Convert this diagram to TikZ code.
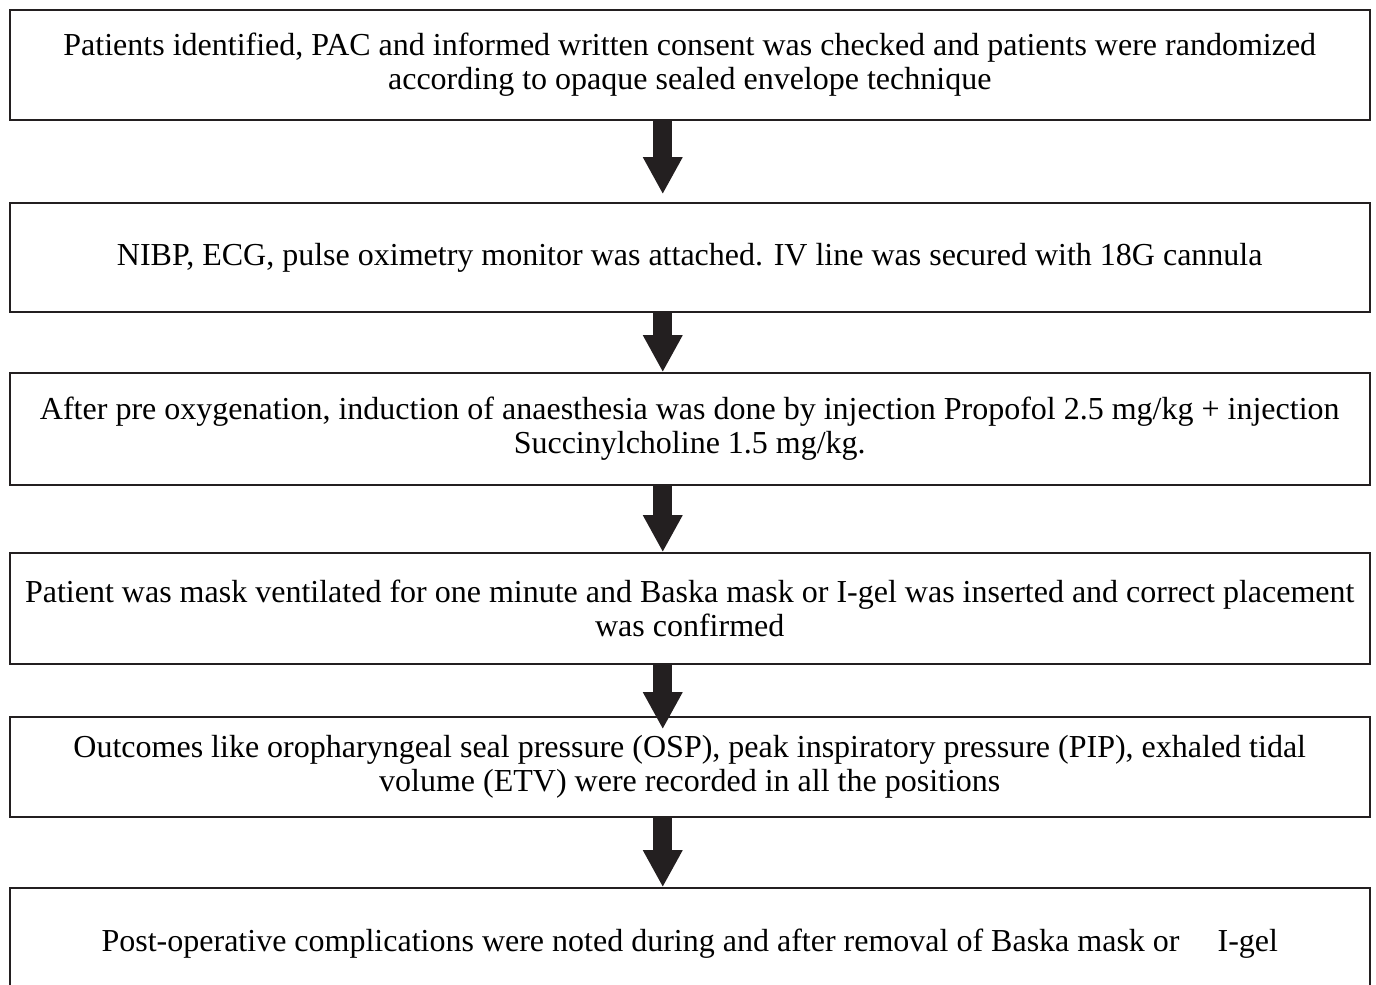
\documentclass[tikz,border=0pt]{standalone}
\usepackage{fontspec}
\setmainfont{Liberation Serif}
\usetikzlibrary{arrows.meta,positioning}
\definecolor{colorink}{HTML}{231F20}
\tikzset{
  stepbox/.style={draw=colorink, line width=1.6pt, minimum width=1360pt,
    align=center, inner sep=0pt, font=\fontsize{32}{34}\selectfont},
  flowarrow/.style={colorink, line width=19pt,
    -{Triangle[width=37pt,length=37pt]}}
}
\begin{document}
\begin{tikzpicture}[x=1pt,y=-1pt]
\useasboundingbox (0,0) rectangle (1376,985);
\clip (0,0) rectangle (1376,985);
\node[stepbox, minimum height=110pt] (b1) at (689.75,65)
  {Patients identified, PAC and informed written consent was checked and patients were randomized\\according to opaque sealed envelope technique};
\node[stepbox, minimum height=109pt] (b2) at (689.75,257.5)
  {NIBP, ECG, pulse oximetry monitor was attached. IV line was secured with 18G cannula};
\node[stepbox, minimum height=112pt] (b3) at (689.75,429)
  {After pre oxygenation, induction of anaesthesia was done by injection Propofol 2.5 mg/kg + injection\\Succinylcholine 1.5 mg/kg.};
\node[stepbox, minimum height=111pt] (b4) at (689.75,608.5)
  {Patient was mask ventilated for one minute and Baska mask or I-gel was inserted and correct placement\\was confirmed};
\node[stepbox, minimum height=100pt] (b5) at (689.75,767)
  {Outcomes like oropharyngeal seal pressure (OSP), peak inspiratory pressure (PIP), exhaled tidal\\volume (ETV) were recorded in all the positions};
\node[stepbox, minimum height=112pt] (b6) at (689.75,944)
  {Post-operative complications were noted during and after removal of Baska mask or\hspace{30pt} I-gel};
% arrows between the steps
\draw[flowarrow, shorten >=8pt] ([xshift=-27pt]b1.south) -- ([xshift=-27pt]b2.north);
\draw[flowarrow] ([xshift=-27pt]b2.south) -- ([xshift=-27pt]b3.north);
\draw[flowarrow] ([xshift=-27pt]b3.south) -- ([xshift=-27pt]b4.north);
\draw[flowarrow, shorten >=-13pt] ([xshift=-27pt]b4.south) -- ([xshift=-27pt]b5.north);
\draw[flowarrow] ([xshift=-27pt]b5.south) -- ([xshift=-27pt]b6.north);
\end{tikzpicture}
\end{document}
